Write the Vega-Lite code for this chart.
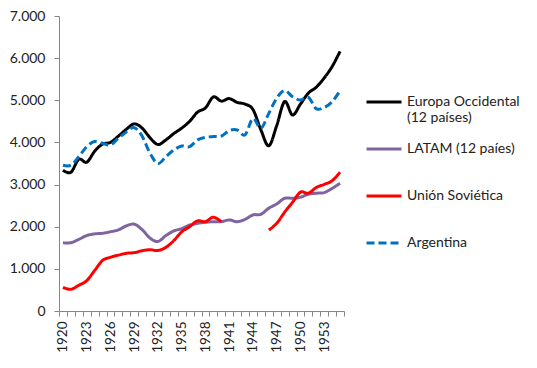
{
  "$schema": "https://vega.github.io/schema/vega-lite/v6.json",
  "width": 285,
  "height": 295,
  "autosize": {"type": "none"},
  "padding": {"left": 59, "top": 16, "right": 193, "bottom": 57},
  "background": "white",
  "config": {
    "view": {"stroke": null},
    "font": "Lato",
    "legend": {
      "orient": "none",
      "legendX": 306,
      "legendY": 67,
      "title": null,
      "padding": 0,
      "symbolType": "stroke",
      "symbolSize": 1225,
      "symbolStrokeWidth": 3,
      "labelFont": "Lato",
      "labelFontSize": 14,
      "labelColor": "#222222",
      "labelOffset": 4,
      "rowPadding": 5,
      "gridAlign": "all",
      "labelLimit": 200
    }
  },
  "data": {
    "values": [
      {"year": 1920, "Europa Occidental (12 países)": 3340, "LATAM (12 paíes)": 1620, "Unión Soviética": 560, "Argentina": 3460},
      {"year": 1921, "Europa Occidental (12 países)": 3290, "LATAM (12 paíes)": 1620, "Unión Soviética": 515, "Argentina": 3460},
      {"year": 1922, "Europa Occidental (12 países)": 3600, "LATAM (12 paíes)": 1700, "Unión Soviética": 610, "Argentina": 3660},
      {"year": 1923, "Europa Occidental (12 países)": 3530, "LATAM (12 paíes)": 1790, "Unión Soviética": 720, "Argentina": 3900},
      {"year": 1924, "Europa Occidental (12 países)": 3790, "LATAM (12 paíes)": 1830, "Unión Soviética": 960, "Argentina": 4020},
      {"year": 1925, "Europa Occidental (12 países)": 3960, "LATAM (12 paíes)": 1845, "Unión Soviética": 1200, "Argentina": 3980},
      {"year": 1926, "Europa Occidental (12 países)": 4000, "LATAM (12 paíes)": 1880, "Unión Soviética": 1275, "Argentina": 3940},
      {"year": 1927, "Europa Occidental (12 países)": 4150, "LATAM (12 paíes)": 1925, "Unión Soviética": 1325, "Argentina": 4100},
      {"year": 1928, "Europa Occidental (12 países)": 4310, "LATAM (12 paíes)": 2020, "Unión Soviética": 1370, "Argentina": 4250},
      {"year": 1929, "Europa Occidental (12 países)": 4440, "LATAM (12 paíes)": 2060, "Unión Soviética": 1385, "Argentina": 4350},
      {"year": 1930, "Europa Occidental (12 países)": 4340, "LATAM (12 paíes)": 1930, "Unión Soviética": 1430, "Argentina": 4150},
      {"year": 1931, "Europa Occidental (12 países)": 4110, "LATAM (12 paíes)": 1730, "Unión Soviética": 1455, "Argentina": 3740},
      {"year": 1932, "Europa Occidental (12 países)": 3950, "LATAM (12 paíes)": 1650, "Unión Soviética": 1435, "Argentina": 3500},
      {"year": 1933, "Europa Occidental (12 países)": 4060, "LATAM (12 paíes)": 1790, "Unión Soviética": 1510, "Argentina": 3660},
      {"year": 1934, "Europa Occidental (12 países)": 4210, "LATAM (12 paíes)": 1900, "Unión Soviética": 1670, "Argentina": 3820},
      {"year": 1935, "Europa Occidental (12 países)": 4340, "LATAM (12 paíes)": 1955, "Unión Soviética": 1880, "Argentina": 3915},
      {"year": 1936, "Europa Occidental (12 países)": 4500, "LATAM (12 paíes)": 2040, "Unión Soviética": 2000, "Argentina": 3900},
      {"year": 1937, "Europa Occidental (12 países)": 4720, "LATAM (12 paíes)": 2080, "Unión Soviética": 2140, "Argentina": 4060},
      {"year": 1938, "Europa Occidental (12 países)": 4820, "LATAM (12 paíes)": 2105, "Unión Soviética": 2120, "Argentina": 4120},
      {"year": 1939, "Europa Occidental (12 países)": 5080, "LATAM (12 paíes)": 2120, "Unión Soviética": 2225, "Argentina": 4140},
      {"year": 1940, "Europa Occidental (12 países)": 4980, "LATAM (12 paíes)": 2120, "Unión Soviética": 2120, "Argentina": 4150},
      {"year": 1941, "Europa Occidental (12 países)": 5040, "LATAM (12 paíes)": 2160, "Unión Soviética": null, "Argentina": 4280},
      {"year": 1942, "Europa Occidental (12 países)": 4950, "LATAM (12 paíes)": 2120, "Unión Soviética": null, "Argentina": 4295},
      {"year": 1943, "Europa Occidental (12 países)": 4910, "LATAM (12 paíes)": 2175, "Unión Soviética": null, "Argentina": 4180},
      {"year": 1944, "Europa Occidental (12 países)": 4780, "LATAM (12 paíes)": 2280, "Unión Soviética": null, "Argentina": 4570},
      {"year": 1945, "Europa Occidental (12 países)": 4300, "LATAM (12 paíes)": 2295, "Unión Soviética": null, "Argentina": 4335},
      {"year": 1946, "Europa Occidental (12 países)": 3920, "LATAM (12 paíes)": 2440, "Unión Soviética": 1920, "Argentina": 4690},
      {"year": 1947, "Europa Occidental (12 países)": 4400, "LATAM (12 paíes)": 2540, "Unión Soviética": 2080, "Argentina": 5050},
      {"year": 1948, "Europa Occidental (12 países)": 4970, "LATAM (12 paíes)": 2675, "Unión Soviética": 2345, "Argentina": 5230},
      {"year": 1949, "Europa Occidental (12 países)": 4650, "LATAM (12 paíes)": 2675, "Unión Soviética": 2580, "Argentina": 5085},
      {"year": 1950, "Europa Occidental (12 países)": 4910, "LATAM (12 paíes)": 2700, "Unión Soviética": 2820, "Argentina": 5005},
      {"year": 1951, "Europa Occidental (12 países)": 5170, "LATAM (12 paíes)": 2770, "Unión Soviética": 2795, "Argentina": 5070},
      {"year": 1952, "Europa Occidental (12 países)": 5310, "LATAM (12 paíes)": 2795, "Unión Soviética": 2930, "Argentina": 4800},
      {"year": 1953, "Europa Occidental (12 países)": 5530, "LATAM (12 paíes)": 2810, "Unión Soviética": 3005, "Argentina": 4830},
      {"year": 1954, "Europa Occidental (12 países)": 5800, "LATAM (12 paíes)": 2910, "Unión Soviética": 3090, "Argentina": 4965},
      {"year": 1955, "Europa Occidental (12 países)": 6160, "LATAM (12 paíes)": 3030, "Unión Soviética": 3295, "Argentina": 5230}
    ]
  },
  "transform": [
    {"fold": ["Europa Occidental (12 países)", "LATAM (12 paíes)", "Unión Soviética", "Argentina"], "as": ["serie", "valor"]}
  ],
  "resolve": {"axis": {"x": "independent"}},
  "layer": [
    {
      "mark": {"type": "line", "strokeWidth": 3, "interpolate": "cardinal", "strokeCap": "butt"},
      "encoding": {
        "x": {
          "field": "year",
          "type": "quantitative",
          "scale": {"domain": [1919.5, 1955.5], "nice": false, "zero": false},
          "axis": {
            "orient": "bottom",
            "title": null,
            "values": [1920, 1923, 1926, 1929, 1932, 1935, 1938, 1941, 1944, 1947, 1950, 1953],
            "format": "d",
            "labelAngle": -90,
            "ticks": false,
            "grid": false,
            "domainColor": "#868686",
            "labelPadding": 10,
            "labelFont": "Lato",
            "labelFontSize": 13.5,
            "labelColor": "#222222"
          }
        },
        "y": {
          "field": "valor",
          "type": "quantitative",
          "scale": {"domain": [0, 7000], "nice": false},
          "axis": {
            "title": null,
            "values": [0, 1000, 2000, 3000, 4000, 5000, 6000, 7000],
            "labelExpr": "replace(format(datum.value, ','), ',', '.')",
            "grid": false,
            "domainColor": "#868686",
            "tickColor": "#868686",
            "tickSize": 5,
            "labelPadding": 9,
            "labelFont": "Lato",
            "labelFontSize": 14,
            "labelColor": "#222222"
          }
        },
        "color": {
          "field": "serie",
          "type": "nominal",
          "scale": {
            "domain": ["Europa Occidental (12 países)", "LATAM (12 paíes)", "Unión Soviética", "Argentina"],
            "range": ["#000000", "#8064A2", "#FF0000", "#0070C0"]
          },
          "legend": {
            "labelExpr": "datum.label === 'Europa Occidental (12 países)' ? ['Europa Occidental', '(12 países)'] : datum.label"
          }
        },
        "strokeDash": {
          "field": "serie",
          "type": "nominal",
          "scale": {
            "domain": ["Europa Occidental (12 países)", "LATAM (12 paíes)", "Unión Soviética", "Argentina"],
            "range": [[1, 0], [1, 0], [1, 0], [8, 4]]
          },
          "legend": {
            "labelExpr": "datum.label === 'Europa Occidental (12 países)' ? ['Europa Occidental', '(12 países)'] : datum.label"
          }
        }
      }
    },
    {
      "mark": {"type": "point", "opacity": 0},
      "encoding": {
        "x": {
          "field": "year",
          "type": "quantitative",
          "axis": {
            "orient": "bottom",
            "title": null,
            "values": [1919.5, 1920.5, 1921.5, 1922.5, 1923.5, 1924.5, 1925.5, 1926.5, 1927.5, 1928.5, 1929.5, 1930.5, 1931.5, 1932.5, 1933.5, 1934.5, 1935.5, 1936.5, 1937.5, 1938.5, 1939.5, 1940.5, 1941.5, 1942.5, 1943.5, 1944.5, 1945.5, 1946.5, 1947.5, 1948.5, 1949.5, 1950.5, 1951.5, 1952.5, 1953.5, 1954.5, 1955.5],
            "labels": false,
            "domain": false,
            "grid": false,
            "ticks": true,
            "tickSize": 5,
            "tickColor": "#868686"
          }
        }
      }
    }
  ]
}
